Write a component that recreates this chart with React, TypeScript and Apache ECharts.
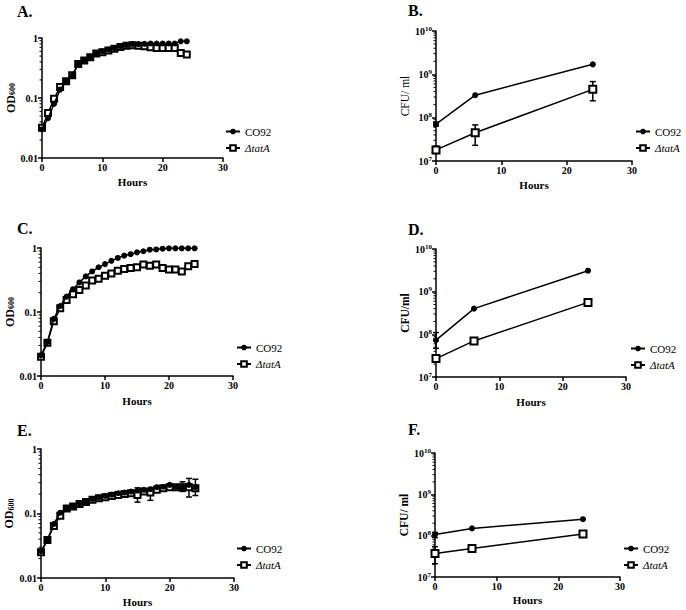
import React, { useEffect, useRef } from 'react';
import * as echarts from 'echarts';

// ---------- data ----------
const hoursOD = [0, 1, 2, 3, 4, 5, 6, 7, 8, 9, 10, 11, 12, 13, 14, 15, 16, 17, 18, 19, 20, 21, 22, 23, 24];
const hoursCFU = [0, 6, 24];

const odA_CO92 = [0.030, 0.046, 0.080, 0.138, 0.190, 0.235, 0.360, 0.420, 0.480, 0.550, 0.600, 0.640, 0.680, 0.730, 0.760, 0.790, 0.790, 0.800, 0.810, 0.810, 0.810, 0.810, 0.810, 0.880, 0.880];
const odA_tatA = [0.032, 0.056, 0.097, 0.153, 0.190, 0.240, 0.370, 0.420, 0.480, 0.550, 0.580, 0.620, 0.660, 0.710, 0.740, 0.760, 0.740, 0.730, 0.700, 0.680, 0.680, 0.680, 0.680, 0.560, 0.530];
const errA_CO92: number[][] = [];
const errA_tatA = [[23, 0.50, 0.62], [24, 0.48, 0.57]];

const odC_CO92 = [0.021, 0.034, 0.078, 0.124, 0.174, 0.227, 0.290, 0.360, 0.430, 0.500, 0.560, 0.630, 0.700, 0.760, 0.800, 0.855, 0.890, 0.940, 0.950, 0.975, 0.990, 0.990, 0.990, 0.990, 0.990];
const odC_tatA = [0.020, 0.033, 0.072, 0.114, 0.154, 0.190, 0.220, 0.260, 0.310, 0.330, 0.370, 0.400, 0.440, 0.470, 0.485, 0.500, 0.550, 0.530, 0.550, 0.485, 0.460, 0.460, 0.430, 0.520, 0.560];
const errC_CO92: number[][] = [];
const errC_tatA = [[24, 0.52, 0.60]];

const odE_CO92 = [0.026, 0.039, 0.069, 0.103, 0.120, 0.130, 0.144, 0.153, 0.168, 0.178, 0.187, 0.196, 0.206, 0.211, 0.219, 0.227, 0.233, 0.238, 0.256, 0.260, 0.278, 0.260, 0.256, 0.278, 0.256];
const odE_tatA = [0.025, 0.039, 0.064, 0.092, 0.120, 0.128, 0.141, 0.151, 0.163, 0.172, 0.178, 0.187, 0.194, 0.200, 0.206, 0.194, 0.219, 0.211, 0.233, 0.247, 0.256, 0.256, 0.256, 0.256, 0.247];
const errE_CO92 = [[22, 0.22, 0.31]];
const errE_tatA = [[15, 0.15, 0.25], [17, 0.16, 0.23], [23, 0.18, 0.35], [24, 0.19, 0.34]];

const cfuB_CO92 = [7.1e7, 3.3e8, 1.7e9];
const cfuB_tatA = [1.8e7, 4.5e7, 4.5e8];
const errB_CO92 = [[0, 6.4e7, 7.8e7]];
const errB_tatA = [[0, 1.5e7, 2.2e7], [6, 2.3e7, 6.8e7], [24, 2.45e8, 6.8e8]];

const cfuD_CO92 = [7.3e7, 4.0e8, 3.1e9];
const cfuD_tatA = [2.7e7, 7.0e7, 5.6e8];
const errD_CO92 = [[0, 4.7e7, 1.1e8]];
const errD_tatA = [[0, 2.4e7, 3.0e7]];

const cfuF_CO92 = [1.07e8, 1.5e8, 2.5e8];
const cfuF_tatA = [3.7e7, 4.9e7, 1.1e8];
const errF_CO92 = [[0, 9.0e7, 1.2e8]];
const errF_tatA = [[0, 2.1e7, 5.4e7], [6, 4.4e7, 5.4e7]];

const panelLetters = ['A.', 'B.', 'C.', 'D.', 'E.', 'F.'];
const seriesNames = ['CO92', 'ΔtatA'];
const xTitle = 'Hours';
const yTitles = ['{a|OD}{b|600}', 'CFU/ ml', '{a|OD}{b|600}', 'CFU/ml', '{a|OD}{b|600}', 'CFU/ ml'];

// log-axis minor tick multipliers and decades (axis furniture)
const minorMult = [2, 3, 4, 5, 6, 7, 8, 9];
const odDecades = [0.01, 0.1];
const cfuDecades = [1e7, 1e8, 1e9];

// ---------- layout ----------
const FONT = '"Liberation Serif", "Times New Roman", serif';
const layout = [
  { left: 42, top: 38, width: 181, height: 120, kind: 'od', letter: [17, 3], legend: [225, 126], yGap: 24, xGap: 18, yBold: true },
  { left: 436, top: 31, width: 196, height: 130, kind: 'cfu', letter: [408, 2], legend: [635, 126], yGap: 20, xGap: 18, yBold: false },
  { left: 41, top: 248, width: 192, height: 128, kind: 'od', letter: [17, 220], legend: [236, 342], yGap: 25, xGap: 19, yBold: true },
  { left: 436, top: 249, width: 190, height: 128, kind: 'cfu', letter: [408, 221], legend: [630, 343], yGap: 23, xGap: 19, yBold: true },
  { left: 41, top: 449, width: 193, height: 129, kind: 'od', letter: [17, 422], legend: [236, 543], yGap: 26, xGap: 18, yBold: true },
  { left: 435, top: 453, width: 185, height: 124, kind: 'cfu', letter: [408, 421], legend: [623, 543], yGap: 20, xGap: 17, yBold: true },
];

const panelData = [
  { x: hoursOD, co: odA_CO92, ta: odA_tatA, eco: errA_CO92, eta: errA_tatA },
  { x: hoursCFU, co: cfuB_CO92, ta: cfuB_tatA, eco: errB_CO92, eta: errB_tatA },
  { x: hoursOD, co: odC_CO92, ta: odC_tatA, eco: errC_CO92, eta: errC_tatA },
  { x: hoursCFU, co: cfuD_CO92, ta: cfuD_tatA, eco: errD_CO92, eta: errD_tatA },
  { x: hoursOD, co: odE_CO92, ta: odE_tatA, eco: errE_CO92, eta: errE_tatA },
  { x: hoursCFU, co: cfuF_CO92, ta: cfuF_tatA, eco: errF_CO92, eta: errF_tatA },
];

const black = '#000';

function errRender(params: any, api: any) {
  const x = api.value(0);
  const lo = api.value(1);
  const hi = api.value(2);
  const p1 = api.coord([x, lo]);
  const p2 = api.coord([x, hi]);
  const w = 3;
  const style = { stroke: black, lineWidth: 1.5 };
  return {
    type: 'group',
    children: [
      { type: 'line', shape: { x1: p1[0], y1: p1[1], x2: p2[0], y2: p2[1] }, style },
      { type: 'line', shape: { x1: p1[0] - w, y1: p1[1], x2: p1[0] + w, y2: p1[1] }, style },
      { type: 'line', shape: { x1: p2[0] - w, y1: p2[1], x2: p2[0] + w, y2: p2[1] }, style },
    ],
  };
}

function minorTickRender(params: any, api: any) {
  const p = api.coord([api.value(0), api.value(1)]);
  return {
    type: 'line',
    shape: { x1: p[0] - 2.5, y1: p[1], x2: p[0], y2: p[1] },
    style: { stroke: black, lineWidth: 1 },
  };
}

function buildOption() {
  const grid: any[] = [];
  const xAxis: any[] = [];
  const yAxis: any[] = [];
  const series: any[] = [];
  const legend: any[] = [];
  const graphic: any[] = [];

  layout.forEach((L, i) => {
    const d = panelData[i];
    const isOD = L.kind === 'od';
    grid.push({ left: L.left, top: L.top, width: L.width, height: L.height, containLabel: false });
    xAxis.push({
      type: 'value', gridIndex: i, min: 0, max: 30, interval: 10,
      name: xTitle, nameLocation: 'middle', nameGap: L.xGap,
      nameTextStyle: { fontFamily: FONT, fontWeight: 'bold', fontSize: 11, color: black },
      axisLine: { show: true, lineStyle: { color: black, width: 1.5 } },
      axisTick: { show: true, length: 4, lineStyle: { color: black, width: 1.5 } },
      axisLabel: { fontFamily: FONT, fontWeight: 'bold', fontSize: 10, color: black, margin: 4 },
      splitLine: { show: false },
    });
    yAxis.push({
      type: 'log', logBase: 10, gridIndex: i,
      min: isOD ? 0.01 : 1e7, max: isOD ? 1 : 1e10,
      name: yTitles[i], nameLocation: 'middle', nameGap: L.yGap, nameRotate: 90,
      nameTextStyle: {
        fontFamily: FONT, fontWeight: L.yBold ? 'bold' : 'normal', fontSize: isOD ? 12 : 11.5, color: black,
        rich: {
          a: { fontFamily: FONT, fontWeight: 'bold', fontSize: 12, color: black },
          b: { fontFamily: FONT, fontWeight: 'bold', fontSize: 8, color: black, verticalAlign: 'bottom', padding: [4, 0, 0, 0] },
        },
      },
      axisLine: { show: true, lineStyle: { color: black, width: 1.5 } },
      axisTick: { show: true, length: 4, lineStyle: { color: black, width: 1.5 } },
      minorTick: { show: false },
      splitLine: { show: false },
      minorSplitLine: { show: false },
      axisLabel: {
        color: black, margin: 4, fontFamily: FONT, fontWeight: 'bold', fontSize: 10,
        formatter: (v: number) => {
          if (isOD) return String(Number(v.toPrecision(2)));
          return '{b|10}{s|' + Math.round(Math.log10(v)) + '}';
        },
        rich: {
          b: { fontFamily: FONT, fontWeight: 'bold', fontSize: 10, color: black, lineHeight: 12 },
          s: { fontFamily: FONT, fontWeight: 'bold', fontSize: 7, color: black, verticalAlign: 'top', lineHeight: 7 },
        },
      },
    });

    const decades = isOD ? odDecades : cfuDecades;
    const minorData: number[][] = [];
    decades.forEach((dec) => minorMult.forEach((m) => minorData.push([0, dec * m])));
    series.push({
      type: 'custom', name: 'minor' + i, xAxisIndex: i, yAxisIndex: i,
      data: minorData, renderItem: minorTickRender, encode: { x: 0, y: 1 }, z: 1, silent: true, clip: false,
    });

    const circSize = isOD ? 6 : 6;
    const sqSize = isOD ? 6 : 7;
    series.push({
      type: 'custom', name: 'errCO' + i, xAxisIndex: i, yAxisIndex: i,
      data: d.eco, renderItem: errRender, encode: { x: 0, y: [1, 2] }, z: 1, silent: true,
    });
    series.push({
      type: 'custom', name: 'errTA' + i, xAxisIndex: i, yAxisIndex: i,
      data: d.eta, renderItem: errRender, encode: { x: 0, y: [1, 2] }, z: 1, silent: true,
    });
    series.push({
      type: 'line', name: seriesNames[1], xAxisIndex: i, yAxisIndex: i,
      data: d.x.map((h, k) => [h, d.ta[k]]),
      symbol: 'rect', symbolSize: sqSize, showSymbol: true,
      lineStyle: { color: black, width: 1.5 },
      itemStyle: { color: '#fff', borderColor: black, borderWidth: 2 },
      z: 3,
    });
    series.push({
      type: 'line', name: seriesNames[0], xAxisIndex: i, yAxisIndex: i,
      data: d.x.map((h, k) => [h, d.co[k]]),
      symbol: 'circle', symbolSize: circSize, showSymbol: true,
      lineStyle: { color: black, width: 1.5 },
      itemStyle: { color: black, borderColor: black, borderWidth: 0 },
      z: 4,
    });

    legend.push({
      orient: 'vertical', left: L.legend[0], top: L.legend[1], padding: 0,
      itemWidth: 14, itemHeight: 7, itemGap: 5.5, selectedMode: false,
      data: [seriesNames[0], { name: seriesNames[1], textStyle: { fontStyle: 'italic' } }],
      textStyle: { fontFamily: FONT, fontSize: 11, color: black, lineHeight: 10 },
    });

    graphic.push({
      type: 'text', left: L.letter[0], top: L.letter[1],
      style: { text: panelLetters[i], fontFamily: FONT, fontWeight: 'bold', fontSize: 16, fill: black },
    });
  });

  return { animation: false, backgroundColor: '#fff', grid, xAxis, yAxis, series, legend, graphic };
}

export default function App() {
  const ref = useRef<HTMLDivElement>(null);
  useEffect(() => {
    const chart = echarts.init(ref.current!, null, { renderer: 'svg' });
    chart.setOption(buildOption() as any);
    return () => chart.dispose();
  }, []);
  return (
    <div
      ref={ref}
      style={{ position: 'absolute', left: 0, top: 0, width: 686, height: 610, background: '#fff' }}
    />
  );
}
